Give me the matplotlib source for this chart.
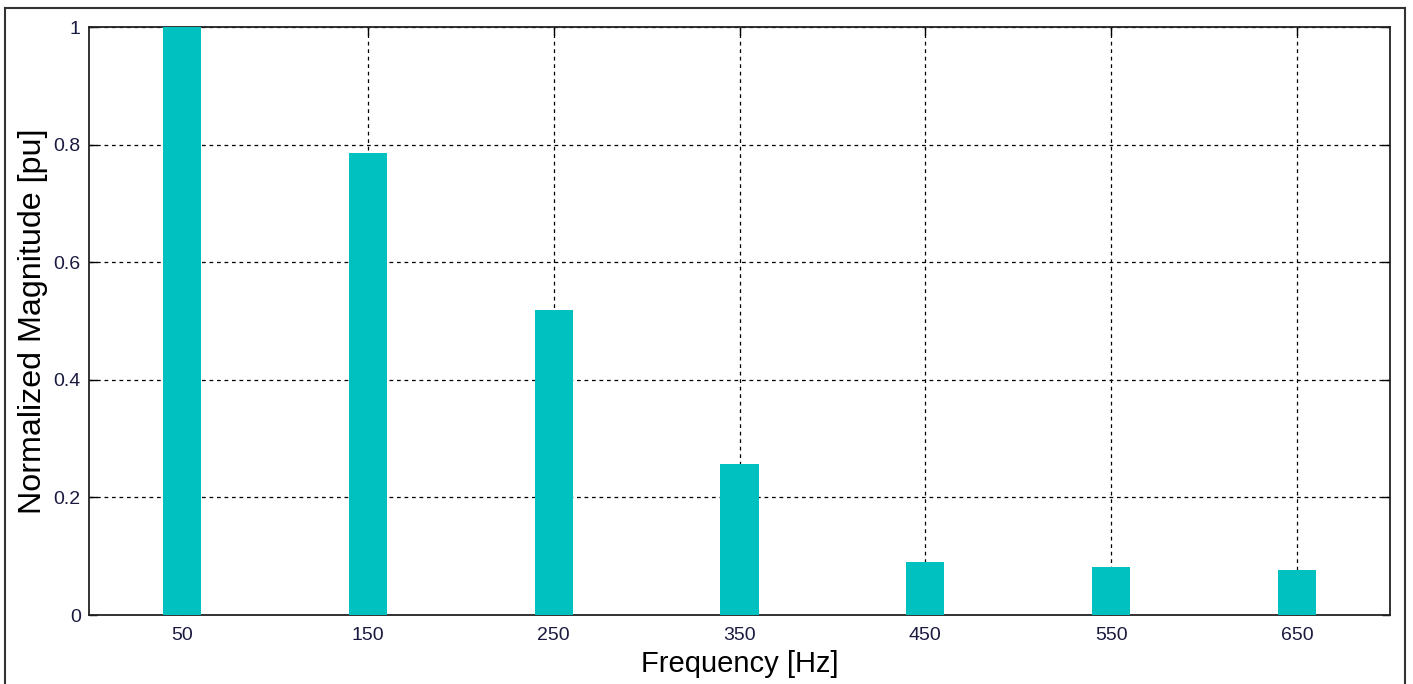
import numpy as np
import matplotlib
matplotlib.use("Agg")
import matplotlib.pyplot as plt
from matplotlib.lines import Line2D

# harmonic spectrum, normalized to the fundamental
freqs = [50, 150, 250, 350, 450, 550, 650]
magnitude = [1.0, 0.786, 0.519, 0.257, 0.090, 0.082, 0.076]
yticks = [0, 0.2, 0.4, 0.6, 0.8, 1]
ytick_labels = ["0", "0.2", "0.4", "0.6", "0.8", "1"]

plt.rcParams['font.family'] = ['Liberation Sans', 'DejaVu Sans']

fig = plt.figure(figsize=(14.13, 6.84), dpi=100)
ax = fig.add_axes([89 / 1413, 1 - 615 / 684, (1390 - 89) / 1413, (615 - 27) / 684])

ax.bar(freqs, magnitude, width=20.5, color='#00C0C0', zorder=3)

ax.set_xlim(0, 700)
ax.set_ylim(0, 1)
ax.set_xticks(freqs)
ax.set_xticklabels([str(f) for f in freqs])
ax.set_yticks(yticks)
ax.set_yticklabels(ytick_labels)

ax.grid(True, color='black', linestyle=(0, (3, 3)), linewidth=0.9, zorder=1)
ax.tick_params(direction='in', length=6, width=1, labelsize=14, top=True, right=True,
               labelcolor='#1a1a40')
ax.tick_params(axis='x', pad=9)
ax.tick_params(axis='y', pad=6)
for sp in ax.spines.values():
    sp.set_linewidth(1.3)
    sp.set_color('#222222')

ax.set_xlabel("Frequency [Hz]", fontsize=21, labelpad=4)
ax.set_ylabel("Normalized Magnitude [pu]", fontsize=23.2, labelpad=4)

# outer frame around the figure (bottom edge falls off the image)
x0, x1 = 5 / 1413, 1405 / 1413
y_top = 1 - 8 / 684
for xs, ys in [([x0, x0], [0, y_top]), ([x0, x1], [y_top, y_top]), ([x1, x1], [y_top, 0])]:
    fig.add_artist(Line2D(xs, ys, transform=fig.transFigure, color='#333333', linewidth=1.5))

fig.savefig("out.png", dpi=100, facecolor='white')
